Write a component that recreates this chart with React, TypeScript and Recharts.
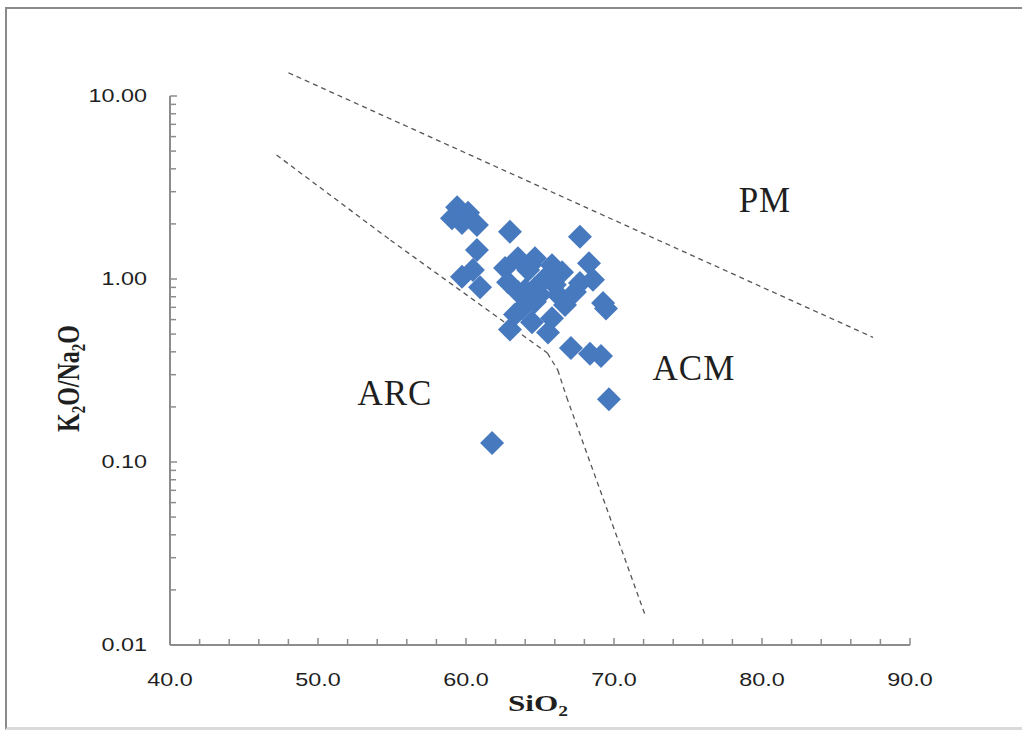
import React from 'react';
import { ScatterChart, Scatter, XAxis, YAxis, ReferenceLine, ReferenceDot, Label } from 'recharts';

// Sample data: SiO2 (wt%) and K2O/Na2O ratio
const siO2 = [59.4, 59.05, 60.14, 60.74, 59.73, 62.97, 60.74, 59.73, 60.47, 60.95, 62.97, 61.76, 62.64, 63.51, 64.66, 65.81, 66.49, 62.84, 63.51, 64.66, 65.34, 63.78, 64.66, 63.31, 64.46, 65.81, 65.54, 66.22, 66.69, 67.7, 68.31, 67.7, 68.58, 67.36, 69.26, 69.46, 67.09, 68.38, 69.12, 69.66, 64.32, 64.2, 65.0, 64.0, 66.0];
const k2oNa2o = [2.47, 2.15, 2.3, 1.97, 2.02, 1.81, 1.44, 1.03, 1.12, 0.9, 0.53, 0.127, 1.15, 1.3, 1.3, 1.19, 1.09, 0.96, 0.85, 0.89, 1.01, 0.69, 0.75, 0.64, 0.58, 0.61, 0.51, 0.82, 0.72, 1.7, 1.22, 0.95, 0.99, 0.85, 0.74, 0.69, 0.42, 0.39, 0.38, 0.22, 1.19, 1.12, 0.82, 0.87, 0.93];

// Discrimination boundaries
const pmAcmSiO2 = [48.0, 87.5];
const pmAcmRatio = [13.4, 0.48];
const arcAcmSiO2 = [47.2, 54.9, 65.5, 66.2, 66.8, 72.1];
const arcAcmRatio = [4.76, 1.63, 0.394, 0.318, 0.226, 0.0146];

// Field labels
const fieldNames = ['PM', 'ACM', 'ARC'];
const fieldSiO2 = [80.2, 75.4, 55.2];
const fieldRatio = [2.7, 0.326, 0.238];

// Axis ticks
const xTicks = [40, 42, 44, 46, 48, 50, 52, 54, 56, 58, 60, 62, 64, 66, 68, 70, 72, 74, 76, 78, 80, 82, 84, 86, 88, 90];
const xMajorTicks = [40, 50, 60, 70, 80, 90];
const xTickLabels = ['40.0', '50.0', '60.0', '70.0', '80.0', '90.0'];
const yTicks = [0.01, 0.02, 0.03, 0.04, 0.05, 0.06, 0.07, 0.08, 0.09, 0.1, 0.2, 0.3, 0.4, 0.5, 0.6, 0.7, 0.8, 0.9, 1, 2, 3, 4, 5, 6, 7, 8, 9, 10];
const yMajorTicks = [0.01, 0.1, 1, 10];
const yTickLabels = ['0.01', '0.10', '1.00', '10.00'];

const points = siO2.map((x, i) => ({ x, y: k2oNa2o[i] }));

const AXIS = '#8c8c8c';
const TXT = '#1f1f1f';
const STRETCH = 1.3;

const XTick = (props: any) => {
  const { x, y, payload } = props;
  const idx = xMajorTicks.indexOf(payload.value);
  return (
    <g>
      <line x1={x} x2={x} y1={y} y2={y - (idx >= 0 ? 7 : 6)} stroke={AXIS} strokeWidth={1.5} />
      {idx >= 0 && (
        <text transform={`translate(${x},${y + 35}) scale(${STRETCH},1)`} textAnchor="middle" dy="0.35em"
          fontFamily="Liberation Sans" fontSize={18} fill={TXT}>{xTickLabels[idx]}</text>
      )}
    </g>
  );
};

const YTick = (props: any) => {
  const { x, y, payload } = props;
  const idx = yMajorTicks.indexOf(payload.value);
  return (
    <g>
      <line x1={x} x2={x + (idx >= 0 ? 7 : 6)} y1={y} y2={y} stroke={AXIS} strokeWidth={1.5} />
      {idx >= 0 && (
        <text transform={`translate(${x - 23},${y}) scale(${STRETCH},1)`} textAnchor="end" dy="0.35em"
          fontFamily="Liberation Sans" fontSize={18} fill={TXT}>{yTickLabels[idx]}</text>
      )}
    </g>
  );
};

const Diamond = (props: any) => {
  const { cx, cy } = props;
  if (cx == null || cy == null) return null;
  const r = 12;
  return <polygon points={`${cx},${cy - r} ${cx + r},${cy} ${cx},${cy + r} ${cx - r},${cy}`} fill="#4779bf" />;
};

const XTitle = (props: any) => {
  const { viewBox } = props;
  const cx = viewBox.x + viewBox.width / 2 - 2;
  const cy = viewBox.y + 58;
  return (
    <text transform={`translate(${cx},${cy}) scale(${STRETCH},1)`} textAnchor="middle" dy="0.35em"
      fontFamily="Liberation Serif" fontWeight="bold" fontSize={24} fill={TXT}>
      SiO<tspan fontSize={15} dy={5}>2</tspan>
    </text>
  );
};

const YTitle = (props: any) => {
  const { viewBox } = props;
  const cx = viewBox.x - 32;
  const cy = viewBox.y + viewBox.height / 2 + 8;
  return (
    <text transform={`translate(${cx},${cy}) scale(${STRETCH},1) rotate(-90)`} textAnchor="middle" dy="0.35em"
      fontFamily="Liberation Serif" fontWeight="bold" fontSize={24} fill={TXT}>
      K<tspan fontSize={15} dy={5}>2</tspan><tspan dy={-5}>O/Na</tspan><tspan fontSize={15} dy={5}>2</tspan><tspan dy={-5}>O</tspan>
    </text>
  );
};

const fieldLabel = (name: string) => (props: any) => (
  <text x={props.cx} y={props.cy} textAnchor="middle" dy="0.35em" fontFamily="Liberation Serif"
    fontSize={35} letterSpacing={1} fill={TXT}>{name}</text>
);

export default function App() {
  const arcSegments = arcAcmSiO2.slice(1).map((x, i) => [
    { x: arcAcmSiO2[i], y: arcAcmRatio[i] },
    { x, y: arcAcmRatio[i + 1] },
  ]);
  const pmSegment = [
    { x: pmAcmSiO2[0], y: pmAcmRatio[0] },
    { x: pmAcmSiO2[1], y: pmAcmRatio[1] },
  ];
  return (
    <div style={{ position: 'absolute', left: 0, top: 0, width: 1022, height: 733, background: '#fff', overflow: 'hidden' }}>
      <div style={{
        position: 'absolute', left: 5, top: 7, width: 1040, height: 718,
        borderLeft: '2px solid #8a8a8a', borderTop: '2px solid #8a8a8a', borderBottom: '3px solid #dadada',
      }} />
      <div style={{ position: 'absolute', left: 0, top: 0 }}>
        <ScatterChart width={1022} height={733} margin={{ top: 96, right: 112, bottom: 48, left: 100 }}>
          <XAxis type="number" dataKey="x" domain={[40, 90]} ticks={xTicks} interval={0}
            tick={<XTick />} tickSize={0} tickMargin={0} height={40}
            axisLine={{ stroke: AXIS, strokeWidth: 2 }} tickLine={false}>
            <Label content={<XTitle />} />
          </XAxis>
          <YAxis type="number" dataKey="y" scale="log" domain={[0.01, 10]} ticks={yTicks} interval={0}
            tick={<YTick />} tickSize={0} tickMargin={0} width={70}
            axisLine={{ stroke: AXIS, strokeWidth: 2 }} tickLine={false}>
            <Label content={<YTitle />} />
          </YAxis>
          <ReferenceLine segment={pmSegment} ifOverflow="visible" stroke="#555" strokeWidth={1.3} strokeDasharray="5 4" />
          {arcSegments.map((seg, i) => (
            <ReferenceLine key={i} segment={seg} ifOverflow="visible" stroke="#555" strokeWidth={1.3} strokeDasharray="5 4" />
          ))}
          <Scatter data={points} shape={<Diamond />} isAnimationActive={false} />
          {fieldNames.map((name, i) => (
            <ReferenceDot key={name} x={fieldSiO2[i]} y={fieldRatio[i]} r={0} shape={fieldLabel(name)} />
          ))}
        </ScatterChart>
      </div>
    </div>
  );
}
